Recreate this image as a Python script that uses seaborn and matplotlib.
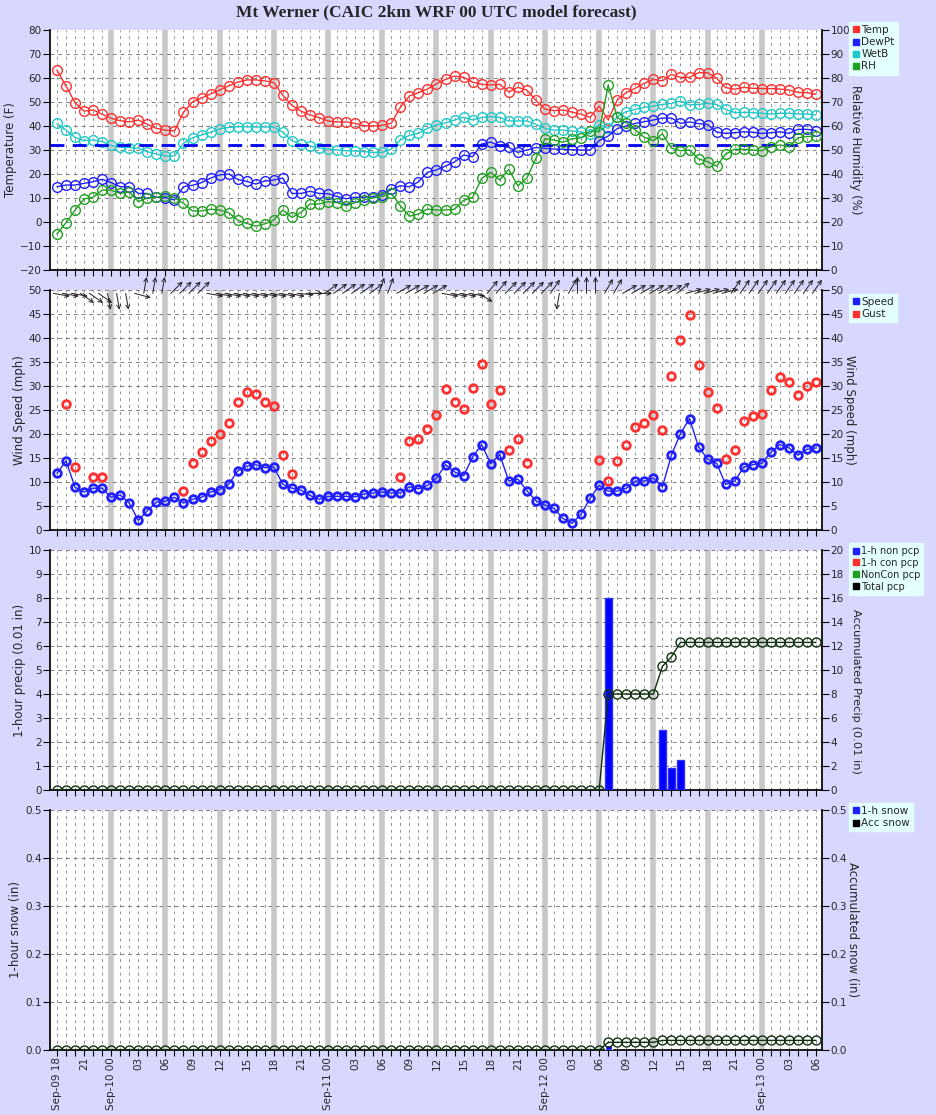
import numpy as np
import pandas as pd
import matplotlib
matplotlib.use("Agg")
import matplotlib.pyplot as plt
import seaborn as sns
from matplotlib.lines import Line2D

sns.set_theme(style="white")
plt.rcParams['font.family'] = ['DejaVu Sans']

hours = np.arange(85)
temp = [63.3,56.7,49.7,46.2,46.7,44.9,43.2,42.2,41.7,42.5,40.7,39.0,38.3,37.9,45.7,50.0,51.7,53.3,55.0,56.7,58.3,59.2,59.2,58.8,58.1,52.8,48.6,46.2,44.6,43.5,42.1,41.7,41.7,41.1,40.1,40.0,40.3,41.1,47.8,52.5,53.9,55.4,57.6,59.4,60.8,60.3,58.3,57.4,57.1,57.4,54.2,56.1,55.0,50.7,47.1,46.4,46.7,45.8,44.9,43.6,48.3,42.6,50.8,53.9,55.7,57.8,59.4,58.8,61.5,60.3,60.3,62.2,62.2,59.9,56.0,55.3,56.1,55.7,55.6,55.6,55.4,55.0,54.0,53.9,53.2]
wetb = [41.1,38.3,35.3,33.9,34.2,33.5,31.9,31.1,31.0,30.7,29.3,28.3,27.5,27.5,32.8,35.1,36.2,37.4,38.8,39.4,39.7,39.7,39.6,39.6,39.6,37.4,33.9,32.4,31.7,30.8,30.4,30.0,29.7,29.6,29.3,29.0,29.0,30.4,34.2,36.1,36.9,39.0,40.4,41.3,42.5,43.6,42.5,43.6,43.9,43.6,42.1,42.1,42.1,40.7,39.0,38.3,38.3,37.9,37.5,36.8,40.6,39.0,43.9,46.0,46.9,47.8,48.3,49.0,49.4,50.4,48.8,49.0,49.4,49.0,46.9,45.6,45.7,45.6,45.3,45.0,45.3,45.3,45.0,45.0,44.6]
dewpt = [14.7,15.4,15.4,16.1,16.8,17.8,16.4,14.7,14.7,11.9,11.9,10.3,10.1,9.2,14.7,15.3,16.4,18.3,19.6,20.0,17.8,16.9,15.8,17.1,17.5,18.3,11.9,11.9,12.8,11.9,11.8,10.6,9.7,10.3,10.3,10.6,11.4,13.6,15.1,14.7,16.7,20.7,21.7,23.3,25.0,27.9,27.2,32.5,33.3,31.7,31.1,29.0,30.0,31.0,30.7,30.4,30.3,30.1,30.0,30.0,33.9,35.8,38.9,40.0,41.1,41.8,42.5,43.3,43.3,41.1,41.7,41.0,40.6,37.5,36.9,37.2,37.6,37.4,36.9,37.2,37.6,36.9,38.6,38.6,38.1]
rh = [15.0,19.7,24.9,29.6,30.3,33.3,33.3,31.9,32.6,28.5,30.0,30.3,30.8,30.1,27.8,24.6,24.6,25.3,25.0,23.9,20.8,19.4,18.3,19.2,20.8,25.0,21.9,24.0,27.5,27.5,28.5,28.1,26.8,28.1,29.2,30.1,30.6,31.9,26.8,22.4,23.3,25.4,25.0,25.0,25.3,29.0,30.3,38.2,40.7,37.5,41.9,35.1,38.3,46.5,54.7,54.2,53.2,54.7,55.0,57.8,57.6,77.1,63.6,61.4,58.3,55.3,53.9,56.7,50.8,49.7,50.0,46.3,45.1,43.3,48.3,50.3,50.3,50.0,49.7,51.4,52.1,51.4,55.1,55.6,55.8]
speed = [11.8,14.4,8.9,7.9,8.7,8.7,6.8,7.3,5.6,2.0,4.0,5.8,6.0,6.8,5.6,6.4,6.8,7.9,8.4,9.5,12.3,13.3,13.6,13.0,13.1,9.5,8.7,8.3,7.2,6.4,7.0,7.0,7.0,6.9,7.5,7.7,7.9,7.7,7.7,9.0,8.6,9.3,10.8,13.6,12.1,11.3,15.2,17.8,13.8,15.7,10.2,10.6,8.2,6.1,5.2,4.5,2.4,1.4,3.3,6.6,9.3,8.1,8.1,8.7,10.2,10.2,10.8,9.0,15.6,20.1,23.2,17.3,14.8,13.9,9.5,10.2,13.1,13.6,13.9,16.2,17.8,17.1,15.6,16.8,17.1]
nan = np.nan
gust = [nan,26.3,13.2,nan,11.1,11.0,nan,nan,nan,nan,nan,nan,nan,nan,8.1,13.9,16.2,18.6,20.0,22.3,26.7,28.8,28.3,26.7,25.8,15.6,11.7,nan,nan,nan,nan,nan,nan,nan,nan,nan,nan,nan,11.0,18.5,18.9,21.0,24.0,29.4,26.7,25.2,29.6,34.6,26.3,29.1,16.6,18.9,13.9,nan,nan,nan,nan,nan,nan,nan,14.6,10.3,14.3,17.7,21.5,22.3,23.9,20.9,32.1,39.5,44.8,34.4,28.8,25.4,14.8,16.6,22.8,23.8,24.1,29.2,31.9,30.8,28.1,30.0,30.8]
wind_dir = [-10,-10,-10,-35,-35,-35,-80,-80,-80,-15,80,80,80,45,45,45,45,-10,-10,-10,-10,-10,-10,-10,-10,-10,-10,-5,0,0,35,35,35,35,35,35,70,70,30,30,30,30,30,-10,-10,-10,-10,-30,50,50,45,45,45,45,45,55,-100,60,90,90,90,60,60,30,30,30,30,30,30,40,15,15,15,15,15,55,55,55,55,55,55,55,55,55,55]
pcp_hours = [61, 67, 68, 69]
pcp_vals = [8.0, 2.5, 0.9, 1.25]
acc_pcp = [0.0]*61 + [8.0]*6 + [10.3, 11.1] + [12.3]*16
snow_hours = [61]
snow_vals = [0.01]
acc_snow = [0.0]*61 + [0.016]*6 + [0.02]*18

labels = []
for h in range(0, 85, 3):
    hr = (18 + h) % 24
    day = 9 + (18 + h) // 24
    labels.append(f"Sep-{day:02d} {hr:02d}" if (hr == 0 or h == 0) else f"{hr:02d}")

BG = '#d8d8ff'
W, H = 937, 1115
TS = 7.5
fig = plt.figure(figsize=(W/100, H/100), dpi=100, facecolor=BG)
fig.text(436/W, 1-12/H, "Mt Werner (CAIC 2km WRF 00 UTC model forecast)", ha='center', va='center',
         fontsize=12.5, fontweight='bold', family='Liberation Serif')

def mkax(top, bottom):
    ax = fig.add_axes([50/W, 1-bottom/H, 772/W, (bottom-top)/H])
    ax.set_facecolor('white')
    ax.set_xlim(-0.77, 84.66)
    for h in range(6, 79, 6):
        ax.axvline(h, color='#c8c8c8', lw=4, zorder=0.5)
    for h in range(85):
        if h % 6 == 0 and 6 <= h <= 78:
            continue
        ax.axvline(h, color='#909090', lw=0.7, ls=(0, (3, 4)), zorder=0.6)
    ax.set_xticks(hours)
    ax.tick_params(axis='x', direction='out', length=4, width=0.8, color='black', bottom=True, labelbottom=False)
    ax.tick_params(axis='y', direction='out', length=5, width=0.8, color='black', left=True, labelsize=TS, pad=1)
    for s in ['top', 'right']:
        ax.spines[s].set_visible(False)
    for s in ['left', 'bottom']:
        ax.spines[s].set_color('black')
    return ax

def twin(ax):
    t = ax.twinx()
    for s in ['top', 'left', 'bottom']:
        t.spines[s].set_visible(False)
    t.spines['right'].set_color('black')
    t.tick_params(axis='y', direction='out', length=5, width=0.8, color='black', right=True, labelsize=TS, pad=1)
    return t

def hgrid(ax, vals):
    for v in vals:
        ax.axhline(v, color='#808080', lw=0.7, ls=(0, (4, 4)), zorder=0.6)

def leg(y, items, fs=7.5):
    handles = [Line2D([], [], marker='s', ls='none', color=c, markersize=4.5) for _, c in items]
    fig.legend(handles, [n for n, _ in items], loc='upper left', bbox_to_anchor=(849/W, 1-y/H),
               frameon=True, facecolor='#e4ffff', edgecolor='#e4ffff', fontsize=fs, handletextpad=0.1,
               borderpad=0.3, labelspacing=0.2, handlelength=0.8, borderaxespad=0, fancybox=False, framealpha=1)

RED, BLUE, CYAN, GREEN = '#ff3030', '#2020ff', '#20c8c8', '#20a020'
mk = dict(marker='o', markersize=7, markerfacecolor='none', markeredgewidth=1.0, lw=1.0)
LS = 8.5

# Panel 1
ax1 = mkax(30, 270)
ax1.set_ylim(-20, 80); ax1.set_yticks(range(-20, 81, 10))
hgrid(ax1, range(-10, 80, 10))
df1 = pd.DataFrame({'h': hours, 'temp': temp, 'wetb': wetb, 'dewpt': dewpt})
for col, c in [('temp', RED), ('wetb', CYAN), ('dewpt', BLUE)]:
    sns.lineplot(data=df1, x='h', y=col, ax=ax1, color=c, markeredgecolor=c, **mk, zorder=3)
ax1.axhline(32, color='#0000ee', lw=2, ls=(0, (5, 3)), zorder=4)
ax1.set_ylabel('Temperature (F)', fontsize=LS, labelpad=2)
t1 = twin(ax1); t1.set_ylim(0, 100); t1.set_yticks(range(0, 101, 10))
sns.lineplot(x=hours, y=rh, ax=t1, color=GREEN, markeredgecolor=GREEN, **mk, zorder=3)
t1.set_ylabel('Relative Humidity (%)', rotation=270, labelpad=9, fontsize=LS)
t1.set_xlim(-0.77, 84.66)
leg(22, [('Temp', RED), ('DewPt', BLUE), ('WetB', CYAN), ('RH', GREEN)])

# Panel 2
ax2 = mkax(290, 530)
ax2.set_ylim(0, 50); ax2.set_yticks(range(0, 51, 5))
hgrid(ax2, range(5, 51, 5))
mk2 = dict(marker='o', markersize=5.5, markerfacecolor='none', markeredgewidth=2.0)
sns.lineplot(x=hours, y=speed, ax=ax2, color=BLUE, markeredgecolor=BLUE, lw=1.0, **mk2, zorder=3)
sns.lineplot(x=hours, y=gust, ax=ax2, color=RED, markeredgecolor=RED, lw=0, **mk2, zorder=3)
for h, d in zip(hours, wind_dir):
    a = np.deg2rad(d)
    ax2.annotate('', xy=(h - 0.4, 49.3), xycoords='data', xytext=(12*np.cos(a), 12*np.sin(a)),
                 textcoords='offset points', annotation_clip=False,
                 arrowprops=dict(arrowstyle='<-', color='#202020', lw=0.7, shrinkA=0, shrinkB=0,
                                 mutation_scale=7))
ax2.set_ylabel('Wind Speed (mph)', fontsize=LS, labelpad=2)
t2 = twin(ax2); t2.set_ylim(0, 50); t2.set_yticks(range(0, 51, 5))
t2.set_ylabel('Wind Speed (mph)', rotation=270, labelpad=9, fontsize=LS)
leg(294, [('Speed', BLUE), ('Gust', RED)])

# Panel 3
ax3 = mkax(550, 790)
ax3.set_ylim(0, 10); ax3.set_yticks(range(0, 11))
hgrid(ax3, range(1, 11))
ax3.bar(pcp_hours, pcp_vals, width=0.8, color='#0000ff', edgecolor='#3030ff', zorder=3)
ax3.set_ylabel('1-hour precip (0.01 in)', fontsize=LS, labelpad=2)
t3 = twin(ax3); t3.set_ylim(0, 20); t3.set_yticks(range(0, 21, 2))
sns.lineplot(x=hours, y=acc_pcp, ax=t3, color='#103010', markeredgecolor='#103010', lw=1.0,
             marker='o', markersize=6.5, markerfacecolor='none', markeredgewidth=1.0, zorder=3)
t3.set_ylabel('Accumulated Precip (0.01 in)', rotation=270, fontsize=8.2, va='bottom')
t3.yaxis.set_label_coords(1.037, 0.41)
t3.set_xlim(-0.77, 84.66)
leg(543, [('1-h non pcp', BLUE), ('1-h con pcp', RED), ('NonCon pcp', GREEN), ('Total pcp', 'black')], fs=7)

# Panel 4
ax4 = mkax(810, 1050)
ax4.set_ylim(0, 0.5); ax4.set_yticks(np.round(np.arange(0, 0.51, 0.1), 1))
hgrid(ax4, np.arange(0.1, 0.51, 0.1))
ax4.bar(snow_hours, snow_vals, width=0.8, color='#0000ff', zorder=3)
ax4.set_ylabel('1-hour snow (in)', fontsize=LS, labelpad=2)
ax4.set_xticklabels([labels[h//3] if h % 3 == 0 else '' for h in hours], rotation=90, fontsize=TS)
ax4.tick_params(axis='x', labelbottom=True, pad=1)
t4 = twin(ax4); t4.set_ylim(0, 0.5); t4.set_yticks(np.round(np.arange(0, 0.51, 0.1), 1))
sns.lineplot(x=hours, y=acc_snow, ax=t4, color='#103010', markeredgecolor='#103010', lw=1.0,
             marker='o', markersize=6.5, markerfacecolor='none', markeredgewidth=1.0, zorder=3)
t4.set_ylabel('Accumulated snow (in)', rotation=270, labelpad=9, fontsize=LS)
t4.set_xlim(-0.77, 84.66)
leg(803, [('1-h snow', BLUE), ('Acc snow', 'black')])

for a in [ax1, ax2, ax3, ax4, t1, t2, t3, t4]:
    if a.get_legend():
        a.get_legend().remove()
    a.set_xlabel('')

fig.savefig('out.png', dpi=100, facecolor=BG)
